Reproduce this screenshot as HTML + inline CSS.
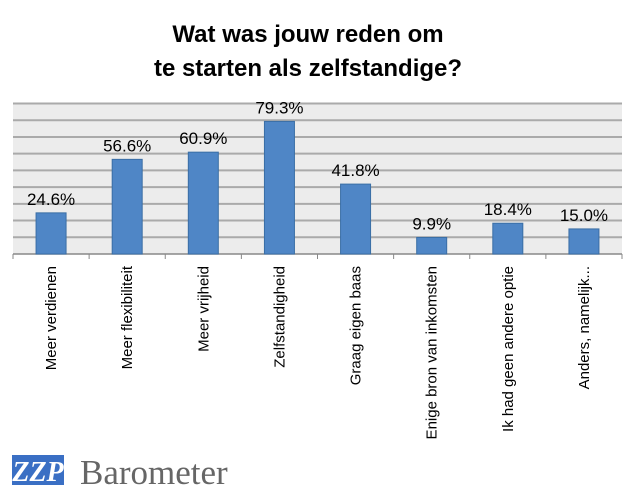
<!DOCTYPE html>
<html><head><meta charset="utf-8"><style>
body{margin:0;background:#fff;width:634px;height:495px;overflow:hidden;font-family:"Liberation Sans",sans-serif}
</style></head><body>
<svg width="634" height="495">
<text x="308" y="42" text-anchor="middle" font-size="24" font-weight="bold">Wat was jouw reden om</text>
<text x="308" y="76" text-anchor="middle" font-size="24" font-weight="bold">te starten als zelfstandige?</text>
<rect x="13" y="103.5" width="609" height="150.5" fill="#ececec"/>
<g id="grid"></g><g id="bars"></g><g id="labels"></g>
<g>
<rect x="12" y="455" width="52" height="30" fill="#3a6fc4"/>
<text x="38" y="481" text-anchor="middle" font-family="Liberation Serif" font-style="italic" font-weight="bold" font-size="28" fill="#fff">ZZP</text>
<text x="80" y="484" font-family="Liberation Serif" font-size="35" fill="#666">Barometer</text>
</g>
</svg>
<script>
const categories=["Meer verdienen","Meer flexibiliteit","Meer vrijheid","Zelfstandigheid","Graag eigen baas","Enige bron van inkomsten","Ik had geen andere optie","Anders, namelijk..."];
const values=[24.6,56.6,60.9,79.3,41.8,9.9,18.4,15.0];
const ticks=[0,10,20,30,40,50,60,70,80,90];
const NS="http://www.w3.org/2000/svg";
const x0=13,x1=622,y0=254,y1=103.5,ymax=90;
const y=v=>y0-(v/ymax)*(y0-y1);
const bw=(x1-x0)/categories.length;
const g=document.getElementById('grid'),b=document.getElementById('bars'),l=document.getElementById('labels');
function mk(tag,attrs,parent){const e=document.createElementNS(NS,tag);for(const k in attrs)e.setAttribute(k,attrs[k]);parent.appendChild(e);return e;}
ticks.forEach(t=>{if(t===0)return;const e=mk('line',{x1:x0,x2:x1,y1:y(t),y2:y(t),stroke:'#aaa','stroke-width':2},g);

});
const ax=mk('line',{x1:x0,x2:x1,y1:y0,y2:y0,stroke:'#888','stroke-width':1.5},g);


for(let i=0;i<=categories.length;i++){const t=mk('line',{x1:x0+i*bw,x2:x0+i*bw,y1:y0,y2:y0+5,stroke:'#888'},g);

}
categories.forEach((c,i)=>{const cx=x0+bw*(i+0.5);
const r=mk('rect',{x:cx-15,y:y(values[i]),width:30,height:y0-y(values[i]),fill:'#4f86c6',stroke:'#3a6ea5','stroke-width':1},b);


const v=mk('text',{x:cx,y:y(values[i])-8,'text-anchor':'middle','font-size':17},l);v.textContent=values[i].toFixed(1)+'%';


const t=mk('text',{x:0,y:0,'text-anchor':'end','font-size':15,transform:`translate(${cx+5},266) rotate(-90)`},l);t.textContent=c;

});
</script>
</body></html>
